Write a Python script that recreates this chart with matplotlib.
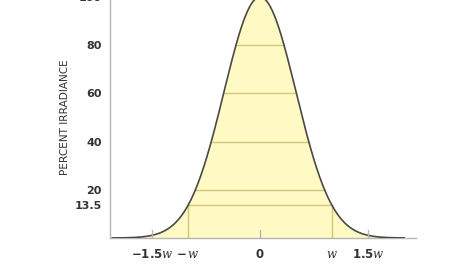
import numpy as np
import matplotlib
matplotlib.use("Agg")
import matplotlib.pyplot as plt

# Data
y_ticks = [13.5, 20, 40, 60, 80, 100]
y_tick_labels = ["13.5", "20", "40", "60", "80", "100"]
grid_levels = [13.5, 20, 40, 60, 80]
x_ticks = [-1.5, -1.0, 0.0, 1.0, 1.5]
x_tick_labels = [r"$\mathbf{-1.5}\mathit{w}$", r"$\mathbf{-}\,\mathit{w}$", r"$\mathbf{0}$",
                 r"$\mathit{w}$", r"$\mathbf{1.5}\mathit{w}$"]
small_ticks = [-1.5, 0.0, 1.5]
w_lines = [-1.0, 1.0]
peak = 100.0
x_start, x_end = -2.05, 2.0

plt.rcParams['font.family'] = ['DejaVu Sans']
plt.rcParams['mathtext.fontset'] = 'custom'
plt.rcParams['mathtext.rm'] = 'DejaVu Sans'
plt.rcParams['mathtext.bf'] = 'DejaVu Sans:bold'
plt.rcParams['mathtext.it'] = 'DejaVu Serif:italic'

fig = plt.figure(figsize=(4.68, 2.64), dpi=100)
W, H = 468, 264
left_px, right_px = 110, 416
bottom_px, top_px = 238, -3
ax = fig.add_axes([left_px / W, (H - bottom_px) / H,
                   (right_px - left_px) / W, (bottom_px - top_px) / H])

x = np.linspace(x_start, x_end, 600)
y = peak * np.exp(-2 * x ** 2)

fill_color = "#FFF9C4"
grid_color = "#CFC77E"
edge_color = "#4A4A42"

ax.fill_between(x, 0, y, color=fill_color, lw=0, zorder=1)

# gridlines clipped to curve
for lev in grid_levels:
    xe = np.sqrt(-np.log(lev / peak) / 2)
    ax.plot([-xe, xe], [lev, lev], color=grid_color, lw=1.0, zorder=2)
for xv in w_lines:
    ax.plot([xv, xv], [0, peak * np.exp(-2 * xv ** 2)], color=grid_color, lw=1.0, zorder=2)

ax.plot(x, y, color=edge_color, lw=1.2, zorder=3)

ax.set_xlim((left_px - 260) / 72, (right_px - 260) / 72)
ax.set_ylim(0, 100)

for s in ["top", "right"]:
    ax.spines[s].set_visible(False)
for s in ["left", "bottom"]:
    ax.spines[s].set_color("#B5B5B5")
    ax.spines[s].set_linewidth(1.0)

ax.set_yticks(y_ticks)
ax.set_yticklabels(y_tick_labels, fontsize=8, fontweight="bold", color="#333333")
ax.tick_params(axis="y", length=0, pad=6)

ax.set_xticks(x_ticks)
ax.set_xticklabels(x_tick_labels, fontsize=8.5, color="#333333")
ax.tick_params(axis="x", length=0, pad=7)

for xt in small_ticks:
    ax.plot([xt, xt], [0, 3.3], color="#B5B5B5", lw=1.0, zorder=4)

ax.set_ylabel("PERCENT IRRADIANCE", fontsize=7.6, color="#333333", labelpad=3)

fig.savefig("out.png", dpi=100)
